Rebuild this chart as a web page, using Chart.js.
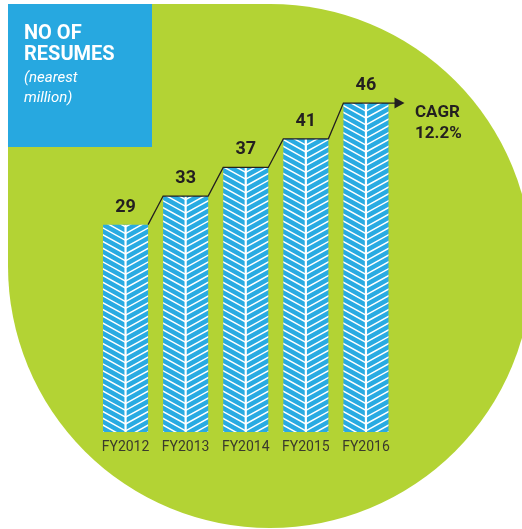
<!DOCTYPE html>
<html><head><meta charset="utf-8">
<script src="https://cdn.jsdelivr.net/npm/chart.js@4"></script>
<style>html,body{margin:0;padding:0;background:#fff;overflow:hidden}#wrap{position:relative;width:522px;height:529px}canvas{display:block}</style>
</head><body><div id="wrap"><canvas id="c" width="522" height="529"></canvas></div>
<script>
// ---- data ----
const categories = ['FY2012', 'FY2013', 'FY2014', 'FY2015', 'FY2016'];
const resumes = [29, 33, 37, 41, 46];
const titleLines = ['NO OF', 'RESUMES'];
const subtitleLines = ['(nearest', 'million)'];
const cagrLines = ['CAGR', '12.2%'];

const GREEN = '#b3d334';
const BLUE_BOX = '#27a8e0';
const BAR_BLUE = '#29abe2';
const INK = '#231f20';
const FONT = 'Roboto, "Noto Sans", sans-serif';

const backgroundPlugin = {
  id: 'bgShape',
  beforeDraw(chart) {
    const ctx = chart.ctx;
    ctx.save();
    ctx.fillStyle = '#ffffff';
    ctx.fillRect(0, 0, chart.width, chart.height);
    // green rounded shape (square top-left corner)
    const cx = 270, cy = 266, r = 262;
    ctx.beginPath();
    ctx.moveTo(8, 4);
    ctx.lineTo(cx, 4);
    ctx.arc(cx, cy, r, -Math.PI / 2, Math.PI, false);
    ctx.lineTo(8, 4);
    ctx.closePath();
    ctx.fillStyle = GREEN;
    ctx.fill();
    // blue title box
    ctx.fillStyle = BLUE_BOX;
    ctx.fillRect(8, 4, 144, 143);
    ctx.fillStyle = '#ffffff';
    ctx.textAlign = 'left';
    ctx.textBaseline = 'alphabetic';
    ctx.font = 'bold 20px ' + FONT;
    ctx.fillText(titleLines[0], 24, 39);
    ctx.fillText(titleLines[1], 24, 60);
    ctx.font = 'italic 15px ' + FONT;
    ctx.fillText(subtitleLines[0], 24, 82);
    ctx.fillText(subtitleLines[1], 24, 102);
    ctx.restore();
  }
};

function drawHerring(ctx, left, top, right, bottom) {
  const cx = (left + right) / 2;
  const half = (right - left) / 2;
  const slope = 0.55, gap = 6.8;
  ctx.save();
  ctx.beginPath();
  ctx.rect(left, top, right - left, bottom - top);
  ctx.clip();
  ctx.strokeStyle = '#ffffff';
  ctx.lineWidth = 1.5;
  ctx.beginPath();
  for (let y0 = bottom + half * slope + gap; y0 > top - gap; y0 -= gap) {
    ctx.moveTo(cx, y0);
    ctx.lineTo(cx - half - 2, y0 - (half + 2) * slope);
    ctx.moveTo(cx, y0);
    ctx.lineTo(cx + half + 2, y0 - (half + 2) * slope);
  }
  ctx.stroke();
  ctx.lineWidth = 2.2;
  ctx.beginPath();
  ctx.moveTo(cx, top);
  ctx.lineTo(cx, bottom);
  ctx.stroke();
  ctx.restore();
}

const decorPlugin = {
  id: 'decor',
  afterDatasetsDraw(chart) {
    const ctx = chart.ctx;
    const meta = chart.getDatasetMeta(0);
    const bars = meta.data.map(b => {
      const p = b.getProps(['x', 'y', 'base', 'width'], true);
      return { left: p.x - p.width / 2, right: p.x + p.width / 2, top: p.y, bottom: p.base, x: p.x };
    });
    bars.forEach(b => drawHerring(ctx, b.left, b.top, b.right, b.bottom));

    // stepped connector with arrow
    ctx.save();
    ctx.strokeStyle = INK;
    ctx.lineWidth = 1.3;
    ctx.beginPath();
    ctx.moveTo(bars[0].right, bars[0].top);
    for (let i = 1; i < bars.length; i++) {
      ctx.lineTo(bars[i].left, bars[i].top);
      ctx.lineTo(bars[i].right, bars[i].top);
    }
    const last = bars[bars.length - 1];
    const tipX = last.right + 16;
    ctx.lineTo(tipX - 8, last.top);
    ctx.stroke();
    ctx.fillStyle = INK;
    ctx.beginPath();
    ctx.moveTo(tipX, last.top);
    ctx.lineTo(tipX - 10, last.top - 5.5);
    ctx.lineTo(tipX - 10, last.top + 5.5);
    ctx.closePath();
    ctx.fill();

    // value labels
    ctx.font = 'bold 18px ' + FONT;
    ctx.textAlign = 'center';
    ctx.textBaseline = 'alphabetic';
    ctx.fillStyle = INK;
    bars.forEach((b, i) => ctx.fillText(String(resumes[i]), b.x, b.top - 13));

    // category labels
    const xs = chart.scales.x;
    ctx.font = '14px ' + FONT;
    ctx.fillStyle = '#3a3a2c';
    categories.forEach((c, i) => ctx.fillText(c, xs.getPixelForValue(i), 451));

    // CAGR annotation
    ctx.font = 'bold 17px ' + FONT;
    ctx.textAlign = 'left';
    ctx.fillStyle = INK;
    ctx.fillText(cagrLines[0], 415, 117);
    ctx.fillText(cagrLines[1], 415, 138);
    ctx.restore();
  }
};

new Chart(document.getElementById('c'), {
  type: 'bar',
  data: {
    labels: categories,
    datasets: [{
      data: resumes,
      backgroundColor: BAR_BLUE,
      borderWidth: 0,
      barPercentage: 0.75,
      categoryPercentage: 1.0
    }]
  },
  options: {
    responsive: false,
    devicePixelRatio: 1,
    animation: false,
    layout: { padding: { left: 95.5, right: 126, top: 74.5, bottom: 97 } },
    plugins: { legend: { display: false }, tooltip: { enabled: false } },
    scales: {
      x: { display: false },
      y: { display: false, min: 0, max: 50 }
    }
  },
  plugins: [backgroundPlugin, decorPlugin]
});
</script>
</body></html>
